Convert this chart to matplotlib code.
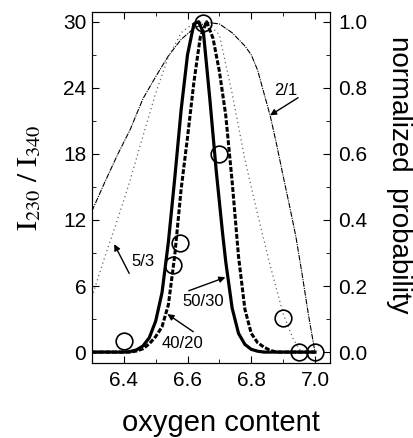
import matplotlib
matplotlib.use('Agg')
import matplotlib.pyplot as plt
from matplotlib.ticker import MultipleLocator, FormatStrFormatter

plt.rcParams['font.family'] = ['Liberation Sans', 'DejaVu Sans']
plt.rcParams['mathtext.fontset'] = 'stix'

# measured points (oxygen content vs. I230/I340)
x_meas = [6.40, 6.553, 6.575, 6.65, 6.70, 6.90, 6.95, 7.00]
y_meas = [1.0, 7.9, 9.9, 29.9, 18.0, 3.1, 0.0, 0.0]

# calculated curves
x_5030 = [6.30, 6.40, 6.42, 6.44, 6.46, 6.48, 6.50, 6.52, 6.54, 6.56, 6.58, 6.60,
          6.62, 6.635, 6.65, 6.67, 6.69, 6.71, 6.72, 6.74, 6.76, 6.78, 6.80, 6.82,
          6.84, 7.00]
y_5030 = [0.0, 0.0, 0.05, 0.2, 0.55, 1.3, 2.8, 5.4, 10.0, 15.8, 22.0, 27.0,
          29.8, 30.0, 29.0, 23.0, 16.5, 10.8, 8.2, 4.0, 1.7, 0.7, 0.25, 0.08,
          0.0, 0.0]

x_4020 = [6.30, 6.42, 6.44, 6.46, 6.48, 6.50, 6.52, 6.54, 6.56, 6.58, 6.60, 6.62,
          6.64, 6.66, 6.68, 6.70, 6.72, 6.74, 6.76, 6.78, 6.80, 6.82, 6.84, 6.86,
          6.88, 7.00]
y_4020 = [0.0, 0.0, 0.1, 0.3, 0.75, 1.4, 2.3, 4.3, 8.8, 14.8, 19.5, 24.5,
          28.6, 30.0, 28.5, 25.5, 21.5, 15.5, 8.7, 3.9, 1.7, 0.85, 0.45, 0.15,
          0.0, 0.0]

x_53 = [6.30, 6.34, 6.38, 6.42, 6.46, 6.50, 6.54, 6.58, 6.62, 6.66, 6.70, 6.74,
        6.78, 6.82, 6.86, 6.90, 6.93, 6.95, 6.96, 7.00]
y_53 = [5.0, 8.6, 12.0, 15.6, 19.6, 23.5, 26.8, 29.0, 29.9, 30.0, 28.8, 23.5,
        17.5, 12.5, 7.8, 3.5, 1.3, 0.3, 0.0, 0.0]

x_21 = [6.30, 6.34, 6.38, 6.42, 6.46, 6.50, 6.54, 6.58, 6.62, 6.66, 6.70, 6.74,
        6.78, 6.80, 6.82, 6.84, 6.86, 6.88, 6.90, 6.92, 6.94, 6.96, 6.98, 7.00]
y_21 = [12.8, 15.4, 17.9, 20.2, 23.0, 25.0, 26.9, 28.4, 29.4, 29.95, 29.8, 29.0,
        27.8, 27.0, 25.6, 23.5, 21.4, 18.8, 16.0, 13.3, 10.5, 7.0, 3.3, 0.0]

fig = plt.figure(figsize=(4.14, 4.38), dpi=100)
ax = fig.add_axes([0.222, 0.171, 0.575, 0.802])

ax.plot(x_21, y_21, color='k', lw=0.8, linestyle=(0, (5, 1, 1, 1)))
ax.plot(x_53, y_53, color='0.4', lw=0.9, linestyle=(0, (1, 2.5)))
ax.plot(x_4020, y_4020, color='k', lw=2.2, linestyle=(0, (1.6, 0.6)))
ax.plot(x_5030, y_5030, color='k', lw=2.3)
ax.plot(x_meas, y_meas, 'o', mfc='none', mec='k', ms=12, mew=1.2, clip_on=False)

# labels with arrows
arrow = dict(arrowstyle='-|>', color='k', lw=1.0, mutation_scale=9, shrinkA=0, shrinkB=0)
ax.annotate('', xy=(6.859, 21.5), xytext=(6.947, 23.1), arrowprops=arrow)
ax.text(6.907, 23.8, '2/1', fontsize=12, ha='center', va='center')
ax.annotate('', xy=(6.37, 9.8), xytext=(6.417, 7.15), arrowprops=arrow)
ax.text(6.459, 8.27, '5/3', fontsize=12, ha='center', va='center')
ax.annotate('', xy=(6.537, 3.45), xytext=(6.618, 1.85), arrowprops=arrow)
ax.text(6.583, 0.82, '40/20', fontsize=12, ha='center', va='center')
ax.annotate('', xy=(6.719, 6.79), xytext=(6.604, 5.57), arrowprops=arrow)
ax.text(6.65, 4.55, '50/30', fontsize=12, ha='center', va='center')

ax.set_xlim(6.3, 7.047)
ax.set_ylim(-1.0, 30.9)
ax.xaxis.set_major_locator(MultipleLocator(0.2))
ax.xaxis.set_minor_locator(MultipleLocator(0.1))
ax.yaxis.set_major_locator(MultipleLocator(6))
ax.yaxis.set_minor_locator(MultipleLocator(3))
ax.tick_params(which='both', direction='in', top=True, right=False, labelsize=15)
ax.tick_params(axis='x', pad=6)
ax.tick_params(axis='y', pad=4)
ax.tick_params(which='major', length=5)
ax.tick_params(which='minor', length=3)

# right axis: normalized probability
ax2 = ax.twinx()
ax2.set_ylim(-1.0 / 30, 30.9 / 30)
ax2.yaxis.set_major_locator(MultipleLocator(0.2))
ax2.yaxis.set_minor_locator(MultipleLocator(0.1))
ax2.yaxis.set_major_formatter(FormatStrFormatter('%.1f'))
ax2.tick_params(which='both', direction='in', labelsize=15, pad=6)
ax2.tick_params(which='major', length=5)
ax2.tick_params(which='minor', length=3)

ax.set_xlabel('oxygen content', fontsize=21, va='center')
ax.xaxis.set_label_coords(0.54, -0.171)
ax.set_ylabel(r'$\mathrm{I}_{230}\ /\ \mathrm{I}_{340}$', fontsize=21, va='center')
ax.yaxis.set_label_coords(-0.263, 0.527)
ax2.set_ylabel('normalized  probability', fontsize=20, rotation=270, va='center')
ax2.yaxis.set_label_coords(1.288, 0.535)

fig.savefig('out.png', dpi=100)
